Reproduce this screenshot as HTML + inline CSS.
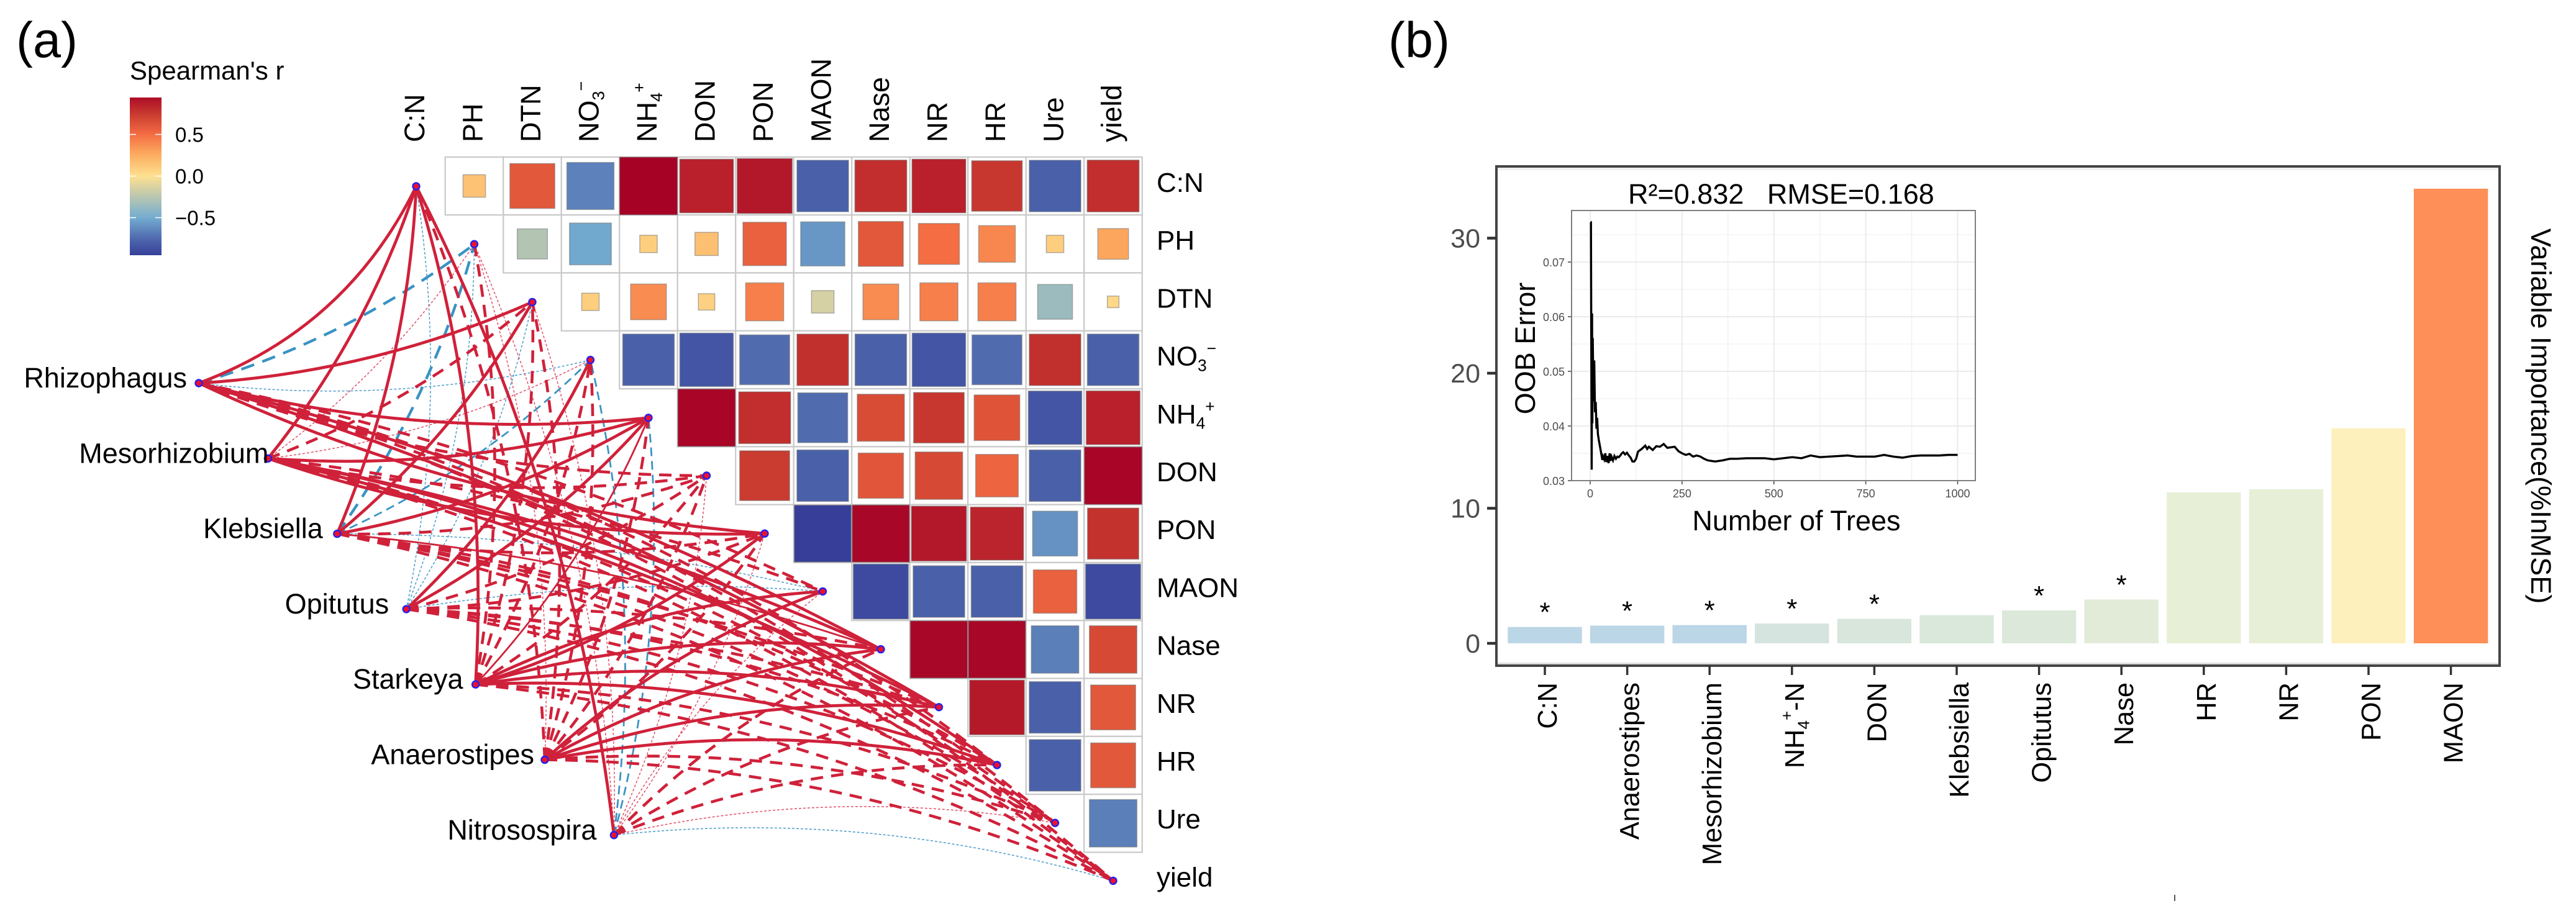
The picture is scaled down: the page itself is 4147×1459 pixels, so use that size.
<!DOCTYPE html>
<html lang="en">
<head>
<meta charset="utf-8">
<title>Spearman correlation network and variable importance</title>
<style>
html,body{margin:0;padding:0;background:#fff;}
svg{display:block;font-family:"Liberation Sans",Arial,sans-serif;}
text{white-space:pre;}
</style>
</head>
<body>
<svg id="fig" xmlns="http://www.w3.org/2000/svg" width="4147" height="1459" viewBox="0 0 4147 1459">
<rect x="0" y="0" width="4147" height="1459" fill="#fff"/>
<defs><linearGradient id="cbGrad" x1="0" y1="0" x2="0" y2="1"></linearGradient></defs>
<g id="panelA">
<text x="26" y="92" font-size="81">(a)</text>
<text x="209" y="128" font-size="42">Spearman's r</text>
<rect x="209" y="157" width="51" height="254" fill="url(#cbGrad)"/>
<g id="cbTicks"></g>
<g id="grid"></g>
<g id="cells"></g>
<g id="topLabels"></g>
<g id="rightLabels"></g>
<g id="edges"></g>
<g id="nodes"></g>
<g id="microbeLabels"></g>
</g>
<g id="panelB">
<text x="2235" y="92" font-size="81">(b)</text>
<rect x="2409" y="268" width="1615" height="804" fill="#fff" stroke="#444" stroke-width="4"/>
<rect x="2411" y="270" width="1611" height="4" fill="#eee"/>
<rect x="2411" y="1067" width="1611" height="3" fill="#ddd"/>
<g id="bars"></g>
<g id="stars"></g>
<g id="yAxis"></g>
<g id="xAxis"></g>
<text x="0" y="0" transform="translate(4075,670) rotate(90)" text-anchor="middle" font-size="45">Variable Importance(%InMSE)</text>
<text x="2621" y="328" font-size="45">R²=0.832   RMSE=0.168</text>
<g id="inset"></g>
<text x="0" y="0" transform="translate(2471,561) rotate(-90)" text-anchor="middle" font-size="45">OOB Error</text>
<text x="2892" y="854" text-anchor="middle" font-size="45">Number of Trees</text>
<line x1="3501" y1="1441" x2="3501" y2="1451" stroke="#555" stroke-width="2"/>
</g>
</svg>
<script>
// ---------- Heatmap data (Spearman's r, upper triangle) ----------
const envLabels = ['C:N','PH','DTN','NO_3^-','NH_4^+','DON','PON','MAON','Nase','NR','HR','Ure','yield'];
const rCN   = [0.15,0.60,-0.66,0.99,0.86,0.90,-0.79,0.80,0.86,0.76,-0.79,0.80];
const rPH   = [-0.27,-0.52,0.09,0.16,0.56,-0.58,0.60,0.50,0.40,0.09,0.28];
const rDTN  = [0.09,0.38,0.08,0.43,-0.15,0.38,0.43,0.43,-0.36,0.04];
const rNO3  = [-0.79,-0.85,-0.74,0.79,-0.79,-0.85,-0.74,0.79,-0.79];
const rNH4  = [0.98,0.80,-0.74,0.66,0.76,0.62,-0.85,0.86];
const rDON  = [0.74,-0.79,0.61,0.67,0.54,-0.79,0.98];
const rPON  = [-0.96,0.97,0.90,0.84,-0.60,0.78];
const rMAON = [-0.90,-0.79,-0.79,0.56,-0.90];
const rNase = [0.97,0.97,-0.67,0.67];
const rNR   = [0.89,-0.79,0.60];
const rHR   = [-0.79,0.60];
const rUre  = [-0.67];
const corrRows = [rCN,rPH,rDTN,rNO3,rNH4,rDON,rPON,rMAON,rNase,rNR,rHR,rUre];

// ---------- Network data: link class per microbe for each environment factor ----------
// S strong solid, s thin solid, D red dashed, d red dotted, B blue dashed, T thin blue dashed, b blue dotted
const microbeLabels = ['Rhizophagus','Mesorhizobium','Klebsiella','Opitutus','Starkeya','Anaerostipes','Nitrosospira'];
const linksRhizophagus   = ['S','B','S','b','S','D','S','D','S','S','D','D','D'];
const linksMesorhizobium = ['S','d','D','d','S','D','S','D','S','S','S','D','D'];
const linksKlebsiella    = ['S','B','S','T','S','D','D','b','s','D','D','D','D'];
const linksOpitutus      = ['b','b','b','S','S','D','D','b','D','D','D','D','D'];
const linksStarkeya      = ['S','D','D','D','s','D','S','S','S','S','S','D','D'];
const linksAnaerostipes  = ['D','d','D','D','D','D','D','S','S','S','S','D','D'];
const linksNitrosospira  = ['S','d','d','T','T','d','d','d','D','D','D','d','b'];
const linkRows = [linksRhizophagus,linksMesorhizobium,linksKlebsiella,linksOpitutus,linksStarkeya,linksAnaerostipes,linksNitrosospira];

// ---------- Bar chart data ----------
const barCategories = ['C:N','Anaerostipes','Mesorhizobium','NH_4^+-N','DON','Klebsiella','Opitutus','Nase','HR','NR','PON','MAON'];
const barValues = [1.21,1.31,1.35,1.47,1.81,2.09,2.44,3.24,11.17,11.4,15.92,33.66];
const barStars = [true,true,true,true,true,false,true,true,false,false,false,false];
const barTicks = [0,10,20,30];

// ---------- Inset line data ----------
const oobTrees = [1,2,4,5,6,7,9,11,13,15,17,19,21,24,27,30,33,35,38,41,44,47,50,53,55,58,62,66,70,74,78,82,86,90,95,100,105,110,115,120,125,130,140,150,155,160,170,180,190,200,210,220,230,240,250,260,270,280,290,300,310,320,340,360,380,400,425,450,475,500,525,550,575,600,625,650,675,700,725,750,775,800,825,850,875,900,925,950,975,1000];
const oobError = [0.0773,0.0773,0.032,0.0606,0.0405,0.0561,0.0445,0.0520,0.0425,0.0444,0.0395,0.0415,0.0385,0.0372,0.0361,0.0350,0.0338,0.0344,0.0339,0.0350,0.0334,0.0345,0.0332,0.0350,0.0336,0.0344,0.0337,0.0345,0.0340,0.0344,0.0343,0.0346,0.0350,0.0352,0.0348,0.0351,0.0346,0.0342,0.0335,0.0335,0.0340,0.0353,0.0358,0.0364,0.0358,0.0362,0.0356,0.0363,0.0362,0.0367,0.0360,0.0361,0.0362,0.0354,0.0350,0.0347,0.0349,0.0344,0.0346,0.0344,0.0340,0.0337,0.0335,0.0337,0.0340,0.0340,0.0341,0.0341,0.0341,0.0339,0.0341,0.0343,0.0341,0.0346,0.0343,0.0344,0.0345,0.0346,0.0344,0.0344,0.0344,0.0347,0.0344,0.0342,0.0345,0.0346,0.0346,0.0346,0.0347,0.0347];
const oobXTicks = [0,250,500,750,1000];
const oobYTicks = [0.03,0.04,0.05,0.06,0.07];
const colorbarTicks = [0.5,0,-0.5];

// ---------- Helpers ----------
const NS = 'http://www.w3.org/2000/svg';
function mk(parentId, tag, attrs){
  const e = document.createElementNS(NS, tag);
  for (const k in attrs) e.setAttribute(k, attrs[k]);
  document.getElementById(parentId).appendChild(e);
  return e;
}
function hex(c){return [parseInt(c.slice(1,3),16),parseInt(c.slice(3,5),16),parseInt(c.slice(5,7),16)];}
function lerpStops(stops, v){
  if (v <= stops[0][0]) return stops[0][1];
  for (let i = 1; i < stops.length; i++){
    if (v <= stops[i][0]){
      const t = (v - stops[i-1][0])/(stops[i][0]-stops[i-1][0]);
      const a = hex(stops[i-1][1]), b = hex(stops[i][1]);
      return 'rgb(' + a.map((x,j)=>Math.round(x+(b[j]-x)*t)).join(',') + ')';
    }
  }
  return stops[stops.length-1][1];
}
const rStops = [[-1,'#313695'],[-0.75,'#4f69ae'],[-0.5,'#74add1'],[0,'#fee090'],[0.25,'#fdae61'],[0.5,'#f46d43'],[0.75,'#c8392f'],[1,'#a50026']];
function rColor(r){return lerpStops(rStops, r);}
function writeLabel(el, str){
  // "_x" renders x as a subscript and "^x" as a superscript
  const parts = str.split(/(_.|\^.)/).filter(Boolean);
  let shift = 0;
  const base = parseFloat(el.getAttribute('font-size'));
  parts.forEach(p=>{
    const ts = document.createElementNS(NS,'tspan');
    let target = 0;
    let txt = p;
    if (p[0]==='_'){target = base*0.2; txt = p[1]; ts.setAttribute('font-size', base*0.6);}
    else if (p[0]==='^'){target = -base*0.42; txt = p[1]==='-'?'\u2212':p[1]; ts.setAttribute('font-size', base*0.6);}
    ts.setAttribute('dy', target - shift);
    shift = target;
    ts.textContent = txt;
    el.appendChild(ts);
  });
}

// ---------- Scales for panel (a) ----------
const envX = i => 670 + 93.5*i;
const envY = i => 300 + 93.2*i;
const microbeX = m => 320 + 111.4*m;
const microbeY = m => 617 + 121.3*m;

// colour bar
const cbY = r => 283.5 - r*134;
const grad = document.getElementById('cbGrad');
for (let k = 0; k <= 40; k++){
  const r = 0.944 - k/40*(0.944+0.951);
  const s = document.createElementNS(NS,'stop');
  s.setAttribute('offset', (k/40*100)+'%');
  s.setAttribute('stop-color', rColor(r));
  grad.appendChild(s);
}
colorbarTicks.forEach(v=>{
  const y = cbY(v);
  const a = mk('cbTicks','line',{x1:209,x2:219,y1:y,y2:y,stroke:'#fff','stroke-width':1.5});
  
  
  const b = mk('cbTicks','line',{x1:250,x2:260,y1:y,y2:y,stroke:'#fff','stroke-width':1.5});
  
  
  const t = mk('cbTicks','text',{x:282,y:y+12,'font-size':33});
  
  
  t.textContent = v<0 ? '\u2212'+Math.abs(v).toFixed(1) : v.toFixed(1);
});

// heatmap
const cellW = 93.5, cellH = 93.3;
corrRows.forEach((row,i)=>{
  row.forEach((r,k)=>{
    const j = i+1+k;
    const cx = envX(j), cy = 299.5 + cellH*i;
    const g = mk('grid','rect',{x:cx-cellW/2,y:cy-cellH/2,width:cellW,height:cellH,fill:'#fff',stroke:'#c9c9c9','stroke-width':2.2});
    
    
    const f = Math.sqrt(Math.abs(r));
    const s = mk('cells','rect',{x:cx-cellW*f/2,y:cy-cellH*f/2,width:cellW*f,height:cellH*f,fill:rColor(r),stroke:'#777','stroke-opacity':0.55,'stroke-width':1.5});
    
    
  });
});
envLabels.forEach((lab,i)=>{
  const t = mk('topLabels','text',{transform:'translate('+(envX(i)+13)+',229) rotate(-90)','font-size':45});
  
  
  writeLabel(t, lab);
  const r = mk('rightLabels','text',{x:1862,y:envY(i)+9,'font-size':44});
  
  
  writeLabel(r, lab);
});

// network links
function linkStyle(code){
  switch(code){
    case 'S': return {c:'#d0213a',w:4.8,d:''};
    case 's': return {c:'#d0213a',w:2.8,d:''};
    case 'D': return {c:'#d0213a',w:4.6,d:'20 13'};
    case 'd': return {c:'#e0506a',w:1.5,d:'4 3'};
    case 'B': return {c:'#3a93c3',w:4.4,d:'22 14'};
    case 'T': return {c:'#3a93c3',w:2.8,d:'14 8'};
    default:  return {c:'#4a9cc9',w:1.5,d:'4 3'};
  }
}
function linkCurvature(m,e){
  if (e <= 6) return (m === 0 && e === 0) ? 0.2 : 0.09;
  if (m > 3) return -0.1;
  return e >= 10 ? -0.11 : -0.06;
}
function linkPath(m,e){
  const x0 = microbeX(m), y0 = microbeY(m), x1 = envX(e), y1 = envY(e);
  const dx = x1-x0, dy = y1-y0;
  const k = linkCurvature(m,e);
  const cx = (x0+x1)/2 - dy*k, cy = (y0+y1)/2 + dx*k;
  return 'M'+x0+' '+y0+'Q'+cx.toFixed(1)+' '+cy.toFixed(1)+' '+x1+' '+y1;
}
['b','d','T','B','D','s','S'].forEach(code=>{
  linkRows.forEach((row,m)=>{
    row.forEach((c,e)=>{
      if (c !== code) return;
      const st = linkStyle(c);
      const p = mk('edges','path',{d:linkPath(m,e),fill:'none',stroke:st.c,'stroke-width':st.w});
      if (st.d) p.setAttribute('stroke-dasharray',st.d);
      
      
    });
  });
});

// nodes
envLabels.forEach((lab,i)=>{
  const c = mk('nodes','circle',{cx:envX(i),cy:envY(i),r:5.5,fill:'#f0102a',stroke:'#2222ee','stroke-width':2.4});
  
  
});
const labelGap = [19,-1,23,28,20,17,28];
microbeLabels.forEach((lab,m)=>{
  const c = mk('nodes','circle',{cx:microbeX(m),cy:microbeY(m),r:5.5,fill:'#f0102a',stroke:'#2222ee','stroke-width':2.4});
  
  
  const t = mk('microbeLabels','text',{x:microbeX(m)-labelGap[m],y:microbeY(m)+7,'text-anchor':'end','font-size':45});
  
  
  t.textContent = lab;
});

// ---------- Scales for panel (b) ----------
const barX = i => 2487 + 132.6*i;
const valY = v => 1036 - 21.75*v;
const barW = 119.4;
const barColorStops = [[1.38,'#bbd6e6'],[1.47,'#d5e4de'],[2.09,'#dae7db'],[3.24,'#e1ebd8'],[11.4,'#e7f0d6'],[15.92,'#fdf0bc'],[33.66,'#fe8f58']];

barValues.forEach((v,i)=>{
  const b = mk('bars','rect',{x:barX(i)-barW/2,y:valY(v),width:barW,height:valY(0)-valY(v),fill:lerpStops(barColorStops,v)});
  
  
  if (barStars[i]){
    const s = mk('stars','text',{x:barX(i),y:valY(v)-34+25,'text-anchor':'middle','font-size':44});
    
    
    s.textContent = '*';
  }
  const tk = mk('xAxis','line',{x1:barX(i),x2:barX(i),y1:1072,y2:1087,stroke:'#333','stroke-width':3.5});
  
  
  const t = mk('xAxis','text',{transform:'translate('+(barX(i)+19)+',1099) rotate(-90)','text-anchor':'end','font-size':43.4});
  
  
  writeLabel(t, barCategories[i]);
});
barTicks.forEach(v=>{
  const y = valY(v);
  const tk = mk('yAxis','line',{x1:2394,x2:2409,y1:y,y2:y,stroke:'#333','stroke-width':4.5});
  
  
  const t = mk('yAxis','text',{x:2383,y:y+15,'text-anchor':'end','font-size':43,fill:'#4d4d4d'});
  
  
  t.textContent = String(v);
});

// inset
const insetL = 2530, insetR = 3180, insetT = 339, insetB = 774;
const treeX = n => 2560 + 0.5915*n;
const errY = e => 774 - (e-0.03)*8800;
const bg = mk('inset','rect',{x:insetL,y:insetT,width:insetR-insetL,height:insetB-insetT,fill:'#fff'});


for (let k = 0; k < oobXTicks.length; k++){
  const x = treeX(oobXTicks[k]);
  const g = mk('inset','line',{x1:x,x2:x,y1:insetT,y2:insetB,stroke:'#ebebeb','stroke-width':2});
  
  
  if (k < oobXTicks.length-1){
    const xm = treeX((oobXTicks[k]+oobXTicks[k+1])/2);
    const gm = mk('inset','line',{x1:xm,x2:xm,y1:insetT,y2:insetB,stroke:'#f0f0f0','stroke-width':1.2});
    
    
  }
}
oobYTicks.forEach(v=>{
  const y = errY(v);
  const g = mk('inset','line',{x1:insetL,x2:insetR,y1:y,y2:y,stroke:'#ebebeb','stroke-width':2});
  
  
  const ym = errY(v+0.005);
  const gm = mk('inset','line',{x1:insetL,x2:insetR,y1:ym,y2:ym,stroke:'#f0f0f0','stroke-width':1.2});
  
  
  const tk = mk('inset','line',{x1:insetL-6,x2:insetL,y1:y,y2:y,stroke:'#444','stroke-width':1.5});
  
  
  const t = mk('inset','text',{x:2519,y:y+7,'text-anchor':'end','font-size':18,fill:'#4d4d4d'});
  
  
  t.textContent = v.toFixed(2);
});
oobXTicks.forEach(v=>{
  const x = treeX(v);
  const tk = mk('inset','line',{x1:x,x2:x,y1:insetB,y2:insetB+6,stroke:'#444','stroke-width':1.5});
  
  
  const t = mk('inset','text',{x:x,y:801,'text-anchor':'middle','font-size':18,fill:'#4d4d4d'});
  
  
  t.textContent = String(v);
});
const oobD = oobTrees.map((n,i)=>(i?'L':'M')+treeX(n).toFixed(1)+' '+errY(oobError[i]).toFixed(1)).join('');
const oobLine = mk('inset','path',{d:oobD,fill:'none',stroke:'#000','stroke-width':3.4,'stroke-linejoin':'miter'});


const insetFrame = mk('inset','rect',{x:insetL,y:insetT,width:insetR-insetL,height:insetB-insetT,fill:'none',stroke:'#7f7f7f','stroke-width':2});


</script>
</body>
</html>
